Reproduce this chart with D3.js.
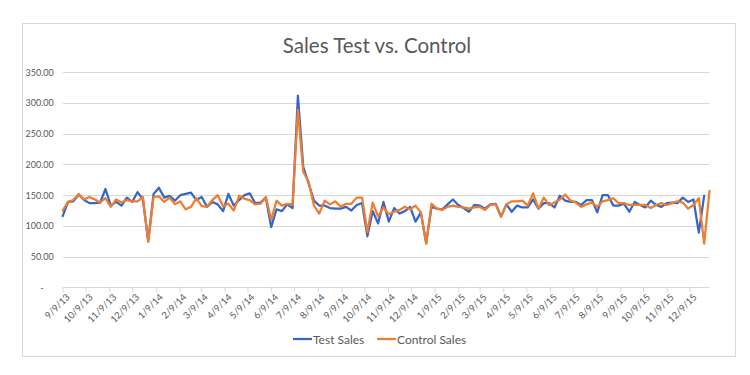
<!DOCTYPE html>
<html><head><meta charset="utf-8">
<script src="https://cdn.jsdelivr.net/npm/d3@7"></script>
<style>
html,body{margin:0;padding:0;background:#fff;}
svg text{font-family:Lato,"Open Sans",sans-serif;}
</style></head>
<body>
<svg id="c" width="750" height="375"></svg>
<script>
// Weekly dates (Mondays)
const weeks = [
"2013-09-09","2013-09-16","2013-09-23","2013-09-30","2013-10-07","2013-10-14","2013-10-21","2013-10-28","2013-11-04","2013-11-11","2013-11-18","2013-11-25","2013-12-02","2013-12-09","2013-12-16","2013-12-23","2013-12-30",
"2014-01-06","2014-01-13","2014-01-20","2014-01-27","2014-02-03","2014-02-10","2014-02-17","2014-02-24","2014-03-03","2014-03-10","2014-03-17","2014-03-24","2014-03-31","2014-04-07","2014-04-14","2014-04-21","2014-04-28","2014-05-05","2014-05-12","2014-05-19","2014-05-26","2014-06-02","2014-06-09","2014-06-16","2014-06-23","2014-06-30","2014-07-07","2014-07-14","2014-07-21","2014-07-28","2014-08-04","2014-08-11","2014-08-18","2014-08-25","2014-09-01","2014-09-08","2014-09-15","2014-09-22","2014-09-29","2014-10-06","2014-10-13","2014-10-20","2014-10-27","2014-11-03","2014-11-10","2014-11-17","2014-11-24","2014-12-01","2014-12-08","2014-12-15","2014-12-22","2014-12-29",
"2015-01-05","2015-01-12","2015-01-19","2015-01-26","2015-02-02","2015-02-09","2015-02-16","2015-02-23","2015-03-02","2015-03-09","2015-03-16","2015-03-23","2015-03-30","2015-04-06","2015-04-13","2015-04-20","2015-04-27","2015-05-04","2015-05-11","2015-05-18","2015-05-25","2015-06-01","2015-06-08","2015-06-15","2015-06-22","2015-06-29","2015-07-06","2015-07-13","2015-07-20","2015-07-27","2015-08-03","2015-08-10","2015-08-17","2015-08-24","2015-08-31","2015-09-07","2015-09-14","2015-09-21","2015-09-28","2015-10-05","2015-10-12","2015-10-19","2015-10-26","2015-11-02","2015-11-09","2015-11-16","2015-11-23","2015-11-30","2015-12-07","2015-12-14","2015-12-21","2015-12-28",
"2016-01-04"];

const testSales = [
116,139,140,151,142,137,137,138,160,133,139,133,146,139,155,143,75,
152,162,146,149,141,150,152,154,142,147,131,139,135,124,152,133,142,150,153,137,138,146,98,127,124,135,129,312,196,169,141,133,133,129,128,128,131,125,134,137,83,124,104,139,107,129,120,124,131,107,122,72,
131,128,127,135,143,134,129,123,134,133,128,135,136,115,135,123,133,130,130,143,128,137,137,130,149,141,139,139,134,142,142,122,150,150,133,133,136,123,139,134,130,141,134,131,137,138,137,146,139,143,89,
149];

const controlSales = [
125,139,142,152,143,147,143,138,145,131,143,138,142,140,140,147,74,
147,148,139,146,135,140,127,131,145,132,131,142,150,132,136,125,149,144,142,135,136,147,110,141,133,136,135,289,188,172,133,120,141,135,140,131,136,136,146,146,90,138,115,130,119,123,126,131,127,133,122,71,
136,128,126,131,133,131,130,128,130,131,126,134,135,115,135,140,140,141,133,153,128,146,134,138,143,151,141,138,131,135,138,131,140,142,145,137,137,134,134,134,134,129,134,137,134,137,140,138,128,134,145,71,
157];

const tickLabels = ["9/9/13","10/9/13","11/9/13","12/9/13","1/9/14","2/9/14","3/9/14","4/9/14","5/9/14","6/9/14","7/9/14","8/9/14","9/9/14","10/9/14","11/9/14","12/9/14","1/9/15","2/9/15","3/9/15","4/9/15","5/9/15","6/9/15","7/9/15","8/9/15","9/9/15","10/9/15","11/9/15","12/9/15"];

const yTicks = [0,50,100,150,200,250,300,350];

const seriesNames = ["Test Sales","Control Sales"];
const seriesColors = ["#3766C4","#ED7D31"];

const parseISO = d3.timeParse("%Y-%m-%d");
const parseMDY = d3.timeParse("%-m/%-d/%y");
const dates = weeks.map(parseISO);
const tickDates = tickLabels.map(parseMDY);

const svg = d3.select("#c");
const txt = "#595959";

// outer border
svg.append("rect").attr("x",22.5).attr("y",23.5).attr("width",713).attr("height",333)
  .attr("fill","#fff").attr("stroke","#d9d9d9").attr("stroke-width",1);

// title
svg.append("text").attr("x",377).attr("y",53).attr("text-anchor","middle")
  .attr("font-size",20.5).attr("font-weight",400).attr("fill",txt).text("Sales Test vs. Control");

const x = d3.scaleTime().domain([dates[0], dates[dates.length-1]]).range([62.7, 709.5]);
const y = d3.scaleLinear().domain([0,350]).range([287.3, 72.3]);

// gridlines
svg.append("g").selectAll("line").data(yTicks.filter(d=>d>0)).join("line")
  .attr("x1",62.7).attr("x2",709.5)
  .attr("y1",d=>Math.round(y(d))+0.5).attr("y2",d=>Math.round(y(d))+0.5)
  .attr("stroke","#d9d9d9").attr("stroke-width",1);

// y axis labels
const yAxis = d3.axisLeft(y).tickValues(yTicks).tickSize(0).tickPadding(9)
  .tickFormat(d => d===0 ? "-" : d3.format(".2f")(d));
const gy = svg.append("g").attr("transform","translate(62.7,0)").call(yAxis);
gy.select(".domain").remove();
gy.selectAll("text").attr("font-size",9).attr("fill",txt).attr("font-family","Lato, sans-serif")
  .attr("x", d => d===0 ? -19 : -9);

// x axis
const xAxis = d3.axisBottom(x).tickValues(tickDates).tickSize(5).tickPadding(3)
  .tickFormat((d,i)=>tickLabels[i]);
const gx = svg.append("g").attr("transform",`translate(0,${Math.round(y(0))+0.5})`).call(xAxis);
gx.select(".domain").attr("stroke","#d9d9d9").attr("d","M62.7,0H709.5");
gx.selectAll(".tick line").attr("stroke","#d9d9d9");
gx.selectAll("text").attr("font-size",9.5).attr("fill",txt).attr("font-family","Lato, sans-serif")
  .attr("text-anchor","end").attr("dy","0")
  .attr("transform","translate(3,6) rotate(-45)").attr("y",6).attr("x",0);

// lines
const data = [testSales, controlSales];
const line = d3.line().x((d,i)=>x(dates[i])).y(d=>y(d));
svg.append("g").selectAll("path").data(data).join("path")
  .attr("d",line).attr("fill","none")
  .attr("stroke",(d,i)=>seriesColors[i]).attr("stroke-width",2.25)
  .attr("stroke-linejoin","round").attr("stroke-linecap","round");

// legend
const legX = [293, 377];
const lg = svg.append("g");
seriesNames.forEach((n,i)=>{
  lg.append("line").attr("x1",legX[i]).attr("x2",legX[i]+19).attr("y1",339).attr("y2",339)
    .attr("stroke",seriesColors[i]).attr("stroke-width",2.25);
  lg.append("text").attr("x",legX[i]+20).attr("y",343.5).attr("font-size",12).attr("fill",txt).text(n);
});
</script>
</body></html>
